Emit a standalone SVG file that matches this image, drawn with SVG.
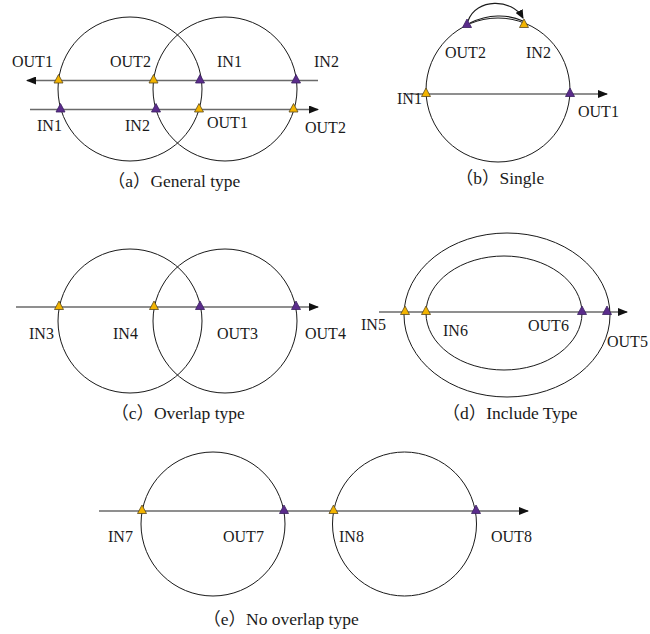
<svg xmlns="http://www.w3.org/2000/svg" xmlns:xlink="http://www.w3.org/1999/xlink" width="650" height="634" viewBox="0 0 650 634">
  <style>
    .ring { fill: none; stroke: #1a1a1a; stroke-width: 1; }
    .path { fill: none; stroke: #6a6a6a; stroke-width: 1.6; }
    .loop { fill: none; stroke: #1a1a1a; stroke-width: 1.1; }
    .in { fill: #f3b400; stroke: #5a4a20; stroke-width: 0.8; }
    .out { fill: #5b2c8c; stroke: #3a2060; stroke-width: 0.8; }
    .lbl { font-family: "Liberation Serif", "Times New Roman", serif; font-size: 16px; fill: #1a1a1a; }
    .cap { font-family: "Liberation Serif", "Noto Sans CJK SC", serif; font-size: 17.5px; fill: #1a1a1a; text-anchor: middle; }
  </style>
  <defs>
    <marker id="arrow" markerUnits="userSpaceOnUse" markerWidth="10" markerHeight="8" refX="9" refY="4" orient="auto">
      <path d="M0,0 L10,4 L0,8 Z" fill="#111"/>
    </marker>
    <marker id="arrow-small" markerUnits="userSpaceOnUse" markerWidth="9" markerHeight="8" refX="8" refY="4" orient="auto">
      <path d="M0,0 L9,4 L0,8 Z" fill="#111"/>
    </marker>
    <path id="tri" d="M-4.5,2.5 L4.5,2.5 L0,-6 Z"/>
  </defs>

  <!-- (a) General type -->
  <g id="panel-a">
    <g id="a-circle-1"><circle class="ring" cx="130" cy="89" r="72"/></g>
    <g id="a-circle-2"><circle class="ring" cx="225" cy="89" r="72"/></g>
    <g id="a-connectors">
      <line class="path" x1="318" y1="80.5" x2="27" y2="80.5" marker-end="url(#arrow)"/>
      <line class="path" x1="30" y1="109.5" x2="318" y2="109.5" marker-end="url(#arrow)"/>
    </g>
    <g id="a-points">
      <use xlink:href="#tri" class="in" x="58.5" y="80.5"/>
      <use xlink:href="#tri" class="in" x="153.5" y="80.5"/>
      <use xlink:href="#tri" class="out" x="200" y="80.5"/>
      <use xlink:href="#tri" class="out" x="296" y="80.5"/>
      <use xlink:href="#tri" class="out" x="60.5" y="109.5"/>
      <use xlink:href="#tri" class="out" x="156" y="109.5"/>
      <use xlink:href="#tri" class="in" x="199" y="109.5"/>
      <use xlink:href="#tri" class="in" x="293.5" y="109.5"/>
    </g>
    <g id="a-labels">
      <text class="lbl" x="12" y="67">OUT1</text>
      <text class="lbl" x="110" y="67">OUT2</text>
      <text class="lbl" x="217" y="67">IN1</text>
      <text class="lbl" x="314" y="67">IN2</text>
      <text class="lbl" x="37" y="131">IN1</text>
      <text class="lbl" x="125" y="131">IN2</text>
      <text class="lbl" x="207" y="128">OUT1</text>
      <text class="lbl" x="305" y="133">OUT2</text>
    </g>
    <text class="cap" x="174" y="187">（a）General type</text>
  </g>

  <!-- (b) Single -->
  <g id="panel-b">
    <g id="b-circle"><circle class="ring" cx="498" cy="90" r="72"/></g>
    <g id="b-connectors">
      <line class="path" x1="407" y1="94" x2="607" y2="94" marker-end="url(#arrow)"/>
      <path class="loop" d="M468,21 C476,-2 512,-2 523,18" marker-end="url(#arrow-small)"/>
      <path class="loop" d="M470,23 C488,14 508,14 523,21"/>
    </g>
    <g id="b-points">
      <use xlink:href="#tri" class="in" x="426" y="94"/>
      <use xlink:href="#tri" class="out" x="570" y="94"/>
      <use xlink:href="#tri" class="out" x="467" y="25"/>
      <use xlink:href="#tri" class="in" x="524" y="25"/>
    </g>
    <g id="b-labels">
      <text class="lbl" x="445" y="58">OUT2</text>
      <text class="lbl" x="526" y="58">IN2</text>
      <text class="lbl" x="397" y="104">IN1</text>
      <text class="lbl" x="578" y="117">OUT1</text>
    </g>
    <text class="cap" x="500" y="184">（b）Single</text>
  </g>

  <!-- (c) Overlap type -->
  <g id="panel-c">
    <g id="c-circle-1"><circle class="ring" cx="130" cy="321" r="72"/></g>
    <g id="c-circle-2"><circle class="ring" cx="225" cy="321" r="72"/></g>
    <g id="c-connectors">
      <line class="path" x1="16" y1="307" x2="318" y2="307" marker-end="url(#arrow)"/>
    </g>
    <g id="c-points">
      <use xlink:href="#tri" class="in" x="59" y="307"/>
      <use xlink:href="#tri" class="in" x="154" y="307"/>
      <use xlink:href="#tri" class="out" x="200" y="307"/>
      <use xlink:href="#tri" class="out" x="296" y="307"/>
    </g>
    <g id="c-labels">
      <text class="lbl" x="29" y="339">IN3</text>
      <text class="lbl" x="113" y="339">IN4</text>
      <text class="lbl" x="217" y="339">OUT3</text>
      <text class="lbl" x="305" y="339">OUT4</text>
    </g>
    <text class="cap" x="178" y="419">（c）Overlap type</text>
  </g>

  <!-- (d) Include type -->
  <g id="panel-d">
    <g id="d-ellipse-outer"><ellipse class="ring" cx="507" cy="315" rx="103" ry="82"/></g>
    <g id="d-ellipse-inner"><ellipse class="ring" cx="504" cy="313" rx="78" ry="57"/></g>
    <g id="d-connectors">
      <line class="path" x1="379" y1="312" x2="627" y2="312" marker-end="url(#arrow)"/>
    </g>
    <g id="d-points">
      <use xlink:href="#tri" class="in" x="405" y="312"/>
      <use xlink:href="#tri" class="in" x="426" y="312"/>
      <use xlink:href="#tri" class="out" x="582" y="312"/>
      <use xlink:href="#tri" class="out" x="607" y="312"/>
    </g>
    <g id="d-labels">
      <text class="lbl" x="361" y="330">IN5</text>
      <text class="lbl" x="443" y="336">IN6</text>
      <text class="lbl" x="528" y="331">OUT6</text>
      <text class="lbl" x="607" y="347">OUT5</text>
    </g>
    <text class="cap" x="510" y="419">（d）Include Type</text>
  </g>

  <!-- (e) No overlap type -->
  <g id="panel-e">
    <g id="e-circle-1"><circle class="ring" cx="213" cy="524" r="72"/></g>
    <g id="e-circle-2"><circle class="ring" cx="404.5" cy="524" r="72"/></g>
    <g id="e-connectors">
      <line class="path" x1="99" y1="511" x2="528" y2="511" marker-end="url(#arrow)"/>
    </g>
    <g id="e-points">
      <use xlink:href="#tri" class="in" x="142" y="511"/>
      <use xlink:href="#tri" class="out" x="284" y="511"/>
      <use xlink:href="#tri" class="in" x="333.5" y="511"/>
      <use xlink:href="#tri" class="out" x="476" y="511"/>
    </g>
    <g id="e-labels">
      <text class="lbl" x="108" y="542">IN7</text>
      <text class="lbl" x="223" y="542">OUT7</text>
      <text class="lbl" x="339" y="542">IN8</text>
      <text class="lbl" x="491" y="542">OUT8</text>
    </g>
    <text class="cap" x="281" y="625">（e）No overlap type</text>
  </g>
</svg>
